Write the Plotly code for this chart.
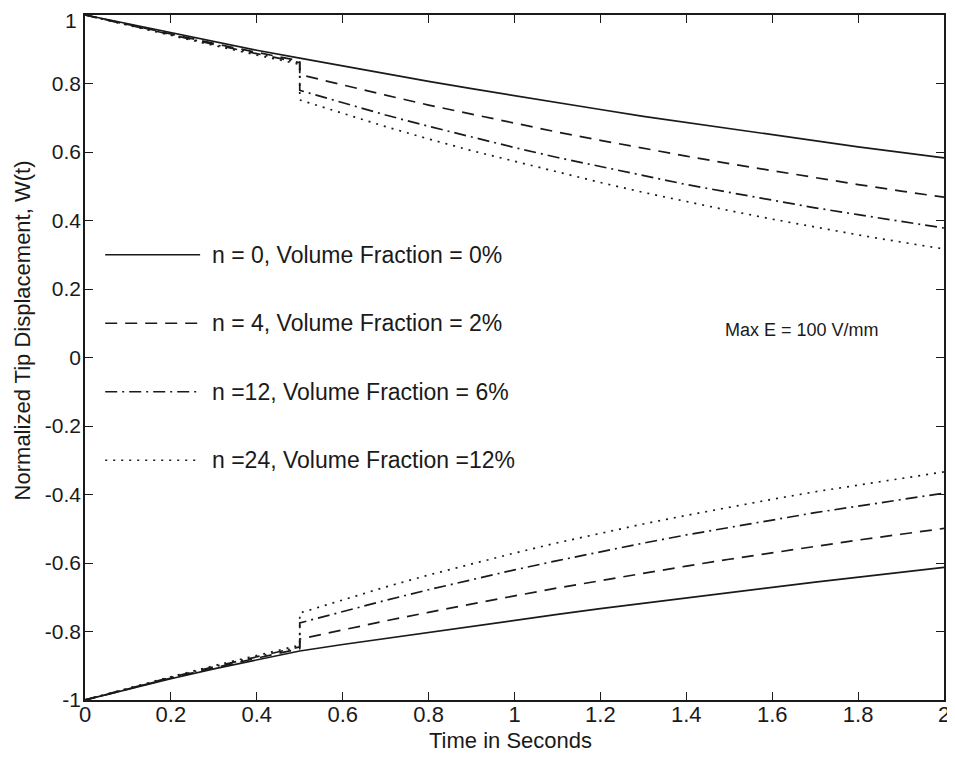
import plotly.graph_objects as go

# ---- data ----
t_pre = [0.0, 0.1, 0.2, 0.3, 0.4, 0.5]
t_post = [0.5, 0.6, 0.7, 0.8, 0.9, 1.0, 1.1, 1.2, 1.3, 1.4, 1.5, 1.6, 1.7, 1.8, 1.9, 2.0]
t_all = [0.0, 0.1, 0.2, 0.3, 0.4, 0.5, 0.6, 0.7, 0.8, 0.9, 1.0, 1.1, 1.2, 1.3, 1.4, 1.5, 1.6, 1.7, 1.8, 1.9, 2.0]

# n = 0 (no jump)
top_n0 = [1.000, 0.974, 0.948, 0.922, 0.897, 0.874, 0.851, 0.828, 0.806, 0.785, 0.764,
          0.743, 0.724, 0.704, 0.686, 0.667, 0.650, 0.632, 0.615, 0.599, 0.583]
bot_n0 = [-1.000, -0.968, -0.938, -0.909, -0.882, -0.857, -0.838, -0.820, -0.802, -0.784, -0.767,
          -0.750, -0.733, -0.717, -0.701, -0.686, -0.671, -0.656, -0.641, -0.627, -0.613]

# n = 4
top_n4_pre = [1.000, 0.972, 0.944, 0.917, 0.891, 0.866]
top_n4_post = [0.826, 0.795, 0.766, 0.737, 0.710, 0.684, 0.658, 0.634, 0.610, 0.588, 0.566,
               0.545, 0.524, 0.505, 0.486, 0.468]
bot_n4_pre = [-1.000, -0.967, -0.936, -0.906, -0.877, -0.850]
bot_n4_post = [-0.822, -0.795, -0.769, -0.744, -0.719, -0.696, -0.673, -0.651, -0.630, -0.609,
               -0.589, -0.570, -0.551, -0.533, -0.516, -0.499]

# n = 12
top_n12_pre = [1.000, 0.971, 0.942, 0.914, 0.887, 0.861]
top_n12_post = [0.780, 0.743, 0.708, 0.675, 0.643, 0.613, 0.584, 0.557, 0.530, 0.505, 0.482,
                0.459, 0.437, 0.417, 0.397, 0.378]
bot_n12_pre = [-1.000, -0.966, -0.934, -0.903, -0.873, -0.845]
bot_n12_post = [-0.775, -0.741, -0.709, -0.678, -0.648, -0.620, -0.593, -0.567, -0.542, -0.518,
                -0.496, -0.474, -0.453, -0.434, -0.415, -0.396]

# n = 24
top_n24_pre = [1.000, 0.970, 0.940, 0.911, 0.883, 0.856]
top_n24_post = [0.752, 0.712, 0.674, 0.638, 0.604, 0.573, 0.541, 0.511, 0.482, 0.455, 0.429,
                0.404, 0.380, 0.358, 0.337, 0.317]
bot_n24_pre = [-1.000, -0.965, -0.932, -0.900, -0.869, -0.840]
bot_n24_post = [-0.746, -0.707, -0.670, -0.635, -0.602, -0.571, -0.541, -0.513, -0.486, -0.461,
                -0.437, -0.414, -0.392, -0.372, -0.353, -0.334]

legend_labels = ["n = 0, Volume Fraction = 0%",
                 "n = 4, Volume Fraction = 2%",
                 "n =12, Volume Fraction = 6%",
                 "n =24, Volume Fraction =12%"]
legend_y = [0.3, 0.1, -0.1, -0.3]

x_ticks = [0, 0.2, 0.4, 0.6, 0.8, 1, 1.2, 1.4, 1.6, 1.8, 2]
x_ticktext = ["0", "0.2", "0.4", "0.6", "0.8", "1", "1.2", "1.4", "1.6", "1.8", "2"]
y_ticks = [1, 0.8, 0.6, 0.4, 0.2, 0, -0.2, -0.4, -0.6, -0.8, -1]
# the top label "1" is placed as an annotation so that it stays inside the page
y_ticktext = ["", "0.8", "0.6", "0.4", "0.2", "0", "-0.2", "-0.4", "-0.6", "-0.8", "-1"]
y_top_label = "1"

# ---- styles ----
INK = "#1a1a1a"
DASHES = ["solid", "12px,8px", "12px,5px,2px,5px", "2px,6px"]
WIDTH = 1.7
FONT = "Liberation Sans, Arial, Helvetica, sans-serif"

fig = go.Figure()

series = [
    (t_all, top_n0, bot_n0),
    (t_pre + t_post, top_n4_pre + top_n4_post, bot_n4_pre + bot_n4_post),
    (t_pre + t_post, top_n12_pre + top_n12_post, bot_n12_pre + bot_n12_post),
    (t_pre + t_post, top_n24_pre + top_n24_post, bot_n24_pre + bot_n24_post),
]

for i, (tx, ytop, ybot) in enumerate(series):
    for yy in (ytop, ybot):
        fig.add_trace(go.Scatter(
            x=tx, y=yy, mode="lines", showlegend=False, hoverinfo="skip",
            line=dict(color=INK, width=WIDTH, dash=DASHES[i]),
        ))

# manual legend (line samples + text), MATLAB-style
shapes = []
annotations = []
for i, (lab, ly) in enumerate(zip(legend_labels, legend_y)):
    shapes.append(dict(type="line", xref="x", yref="y", x0=0.047, x1=0.268, y0=ly, y1=ly,
                       line=dict(color=INK, width=1.5, dash=DASHES[i])))
    annotations.append(dict(x=0.29, y=ly, xref="x", yref="y", text=lab, showarrow=False,
                            xanchor="left", yanchor="middle",
                            font=dict(family=FONT, size=23, color=INK)))

annotations.append(dict(x=1.67, y=0.08, xref="x", yref="y", text="Max E = 100 V/mm",
                        showarrow=False, xanchor="center", yanchor="middle",
                        font=dict(family=FONT, size=18, color=INK)))

# top y tick label
annotations.append(dict(x=0, y=1, xref="paper", yref="paper", text=y_top_label,
                        showarrow=False, xanchor="right", yanchor="top",
                        xshift=-7, yshift=7, borderpad=0,
                        font=dict(family=FONT, size=21, color=INK)))

# axis titles
annotations.append(dict(x=0.99, y=-0.0595, xref="x", yref="paper", text="Time in Seconds",
                        showarrow=False, xanchor="center", yanchor="middle",
                        font=dict(family=FONT, size=22, color=INK)))
annotations.append(dict(x=-0.073, y=0.08, xref="paper", yref="y",
                        text="Normalized Tip Displacement, W(t)", textangle=-90,
                        showarrow=False, xanchor="center", yanchor="middle",
                        font=dict(family=FONT, size=22, color=INK)))

fig.update_layout(
    width=947, height=750,
    margin=dict(l=77, r=11, t=7, b=58),
    paper_bgcolor="white", plot_bgcolor="white",
    shapes=shapes, annotations=annotations,
    showlegend=False,
    font=dict(family=FONT, color=INK),
)

fig.update_xaxes(
    range=[0, 2], tickvals=x_ticks, ticktext=x_ticktext,
    ticks="inside", ticklen=8, tickwidth=1.3, tickcolor=INK,
    showline=True, linecolor=INK, linewidth=1.7, mirror="allticks",
    showgrid=False, zeroline=False, automargin=False,
    ticklabeloverflow="allow", ticklabelstandoff=-6,
    tickfont=dict(family=FONT, size=22, color=INK),
)
fig.update_yaxes(
    range=[-1, 1], tickvals=y_ticks, ticktext=y_ticktext,
    ticks="inside", ticklen=8, tickwidth=1.3, tickcolor=INK,
    showline=True, linecolor=INK, linewidth=1.7, mirror="allticks",
    showgrid=False, zeroline=False, automargin=False,
    ticklabeloverflow="allow", ticklabelstandoff=-2,
    tickfont=dict(family=FONT, size=21, color=INK),
)

fig.write_html("out.html")
